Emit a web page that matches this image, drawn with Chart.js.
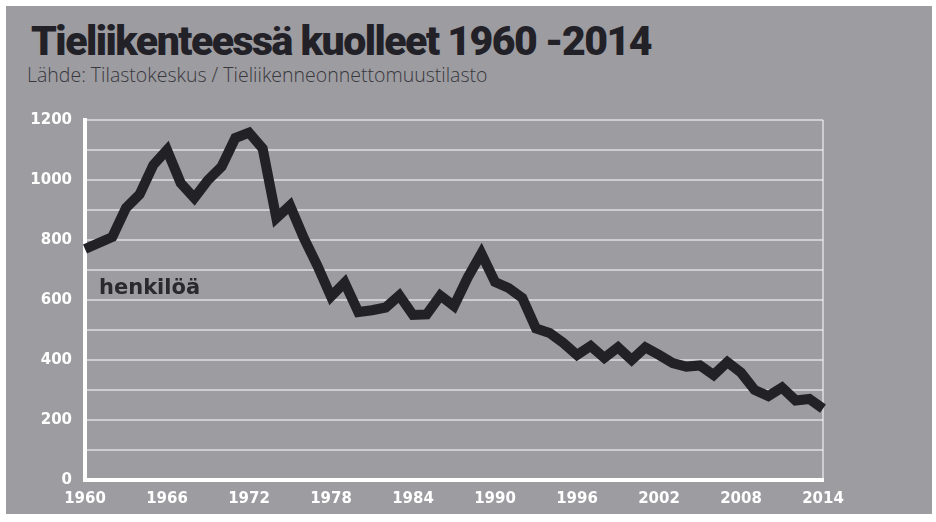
<!DOCTYPE html>
<html>
<head>
<meta charset="utf-8">
<script src="https://cdn.jsdelivr.net/npm/chart.js@4.4.1/dist/chart.umd.min.js"></script>
<style>
  html, body { margin: 0; padding: 0; background: #ffffff; }
  #wrap { position: relative; width: 936px; height: 522px; overflow: hidden; }
  #panel { position: absolute; left: 6px; top: 6px; width: 926px; height: 508px; background: #9d9ca1; }
  #title { position: absolute; left: 31px; top: 17px; font-family: Roboto, sans-serif; font-weight: 900;
           font-size: 41px; color: #222127; white-space: nowrap; letter-spacing: -1.5px; }
  #subtitle { position: absolute; left: 27px; top: 61px; font-family: "Open Sans", sans-serif; font-weight: 300;
              font-size: 19.5px; color: #38373c; white-space: nowrap; }
  #unit { position: absolute; left: 99px; top: 275px; font-family: "DejaVu Sans", sans-serif; font-weight: bold;
          font-size: 21px; color: #2a292e; white-space: nowrap; }
  #chart { position: absolute; left: 0; top: 0; }
</style>
</head>
<body>
<div id="wrap">
  <div id="panel"></div>
  <div id="title">Tieliikenteessä kuolleet 1960 -2014</div>
  <div id="subtitle">Lähde: Tilastokeskus / Tieliikenneonnettomuustilasto</div>
  <canvas id="chart" width="936" height="522"></canvas>
  <div id="unit">henkilöä</div>
</div>
<script>
/* Tieliikenteessä kuolleet vuosittain */
var years = [
  1960, 1961, 1962, 1963, 1964, 1965, 1966, 1967, 1968, 1969,
  1970, 1971, 1972, 1973, 1974, 1975, 1976, 1977, 1978, 1979,
  1980, 1981, 1982, 1983, 1984, 1985, 1986, 1987, 1988, 1989,
  1990, 1991, 1992, 1993, 1994, 1995, 1996, 1997, 1998, 1999,
  2000, 2001, 2002, 2003, 2004, 2005, 2006, 2007, 2008, 2009,
  2010, 2011, 2012, 2013, 2014
];
var deaths = [
  770, 790, 810, 907, 952, 1050, 1100, 990, 940, 1000,
  1045, 1140, 1158, 1105, 873, 915, 808, 715, 612, 658,
  560, 566, 575, 615, 550, 552, 615, 580, 675, 755,
  660, 640, 607, 505, 490, 457, 417, 447, 407, 442,
  400, 442, 417, 390, 378, 382, 350, 393, 358, 300,
  280, 308, 265, 270, 238
];
var xTickYears = [1960, 1966, 1972, 1978, 1984, 1990, 1996, 2002, 2008, 2014];
var yTickValues = [0, 200, 400, 600, 800, 1000, 1200];

var gridColor = 'rgba(255,255,255,0.5)';
var tickFont = { family: "'DejaVu Sans'", size: 15, weight: 'bold' };

var ctx = document.getElementById("chart").getContext("2d");
var lineChart = new Chart(ctx, {
    type: 'line',
    data: {
        labels: years,
        datasets: [{
            data: deaths,
            borderColor: '#222126',
            borderWidth: 10,
            borderJoinStyle: 'miter',
            pointRadius: 0,
            tension: 0,
            fill: false
        }]
    },
    options: {
        responsive: false,
        animation: false,
        layout: {
            padding: { left: 0, top: 120, right: 113, bottom: 0 }
        },
        plugins: {
            legend: { display: false },
            tooltip: { enabled: false }
        },
        scales: {
            x: {
                offset: false,
                afterFit: function(scale) { scale.height = 42; },
                border: { display: true, color: '#ffffff', width: 4 },
                grid: {
                    drawTicks: false,
                    lineWidth: 2,
                    color: function(c) {
                        return c.index === years.length - 1 ? gridColor : 'rgba(0,0,0,0)';
                    }
                },
                ticks: {
                    autoSkip: false,
                    maxRotation: 0,
                    padding: 10,
                    color: '#ffffff',
                    font: tickFont,
                    callback: function(value, index) {
                        return xTickYears.indexOf(years[index]) >= 0 ? String(years[index]) : '';
                    }
                }
            },
            y: {
                min: 0,
                max: 1200,
                afterFit: function(scale) { scale.width = 85; },
                border: { display: true, color: '#ffffff', width: 4 },
                grid: {
                    drawTicks: false,
                    lineWidth: 2,
                    color: gridColor
                },
                ticks: {
                    stepSize: 100,
                    padding: 13,
                    color: '#ffffff',
                    font: tickFont,
                    callback: function(value) {
                        return yTickValues.indexOf(value) >= 0 ? String(value) : '';
                    }
                }
            }
        }
    }
});
</script>
</body>
</html>
